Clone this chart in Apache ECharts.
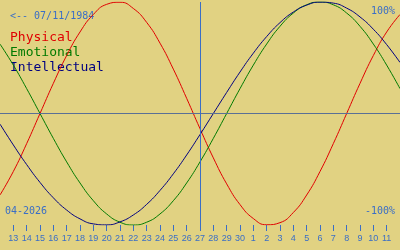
<!DOCTYPE html>
<html><head><meta charset="utf-8">
<script src="https://cdn.jsdelivr.net/npm/echarts@6/dist/echarts.min.js"></script>
<style>html,body{margin:0;padding:0;background:#e1d282}#c{width:400px;height:250px}</style>
</head><body><div id="c"></div>
<script>
var days = ["12","13","14","15","16","17","18","19","20","21","22","23","24","25","26","27","28","29","30","1","2","3","4","5","6","7","8","9","10","11","12"];
var physical = [-73.1,-52.0,-27.0,0,27.0,52.0,73.1,88.8,97.9,99.8,94.2,81.7,63.1,39.8,13.6,-13.6,-39.8,-63.1,-81.7,-94.2,-99.8,-97.9,-88.8,-73.1,-52.0,-27.0,0,27.0,52.0,73.1,88.8];
var emotional = [62.3,43.4,22.3,0,-22.3,-43.4,-62.3,-78.2,-90.1,-97.5,-100,-97.5,-90.1,-78.2,-62.3,-43.4,-22.3,0,22.3,43.4,62.3,78.2,90.1,97.5,100,97.5,90.1,78.2,62.3,43.4,22.3];
var intellectual = [-9.5,-28.2,-45.8,-61.8,-75.6,-86.6,-94.5,-99.0,-99.9,-97.2,-91.0,-81.5,-69.0,-54.1,-37.2,-18.9,0,18.9,37.2,54.1,69.0,81.5,91.0,97.2,99.9,99.0,94.5,86.6,75.6,61.8,45.8];
var todayIndex = 15;
var birthText = "<-- 07/11/1984";
var monthText = "04-2026";
var topText = "100%";
var bottomText = "-100%";
var seriesNames = ["Physical","Emotional","Intellectual"];
var seriesColors = ["#e00000","#007a00","#000080"];
var blue = "#3a6ec6";
var mono = "'DejaVu Sans Mono', monospace";
var sans = "'Liberation Sans', sans-serif";

var chart = echarts.init(document.getElementById('c'), null, {renderer:'canvas'});
function edgeHide(i){ return i > 0 && i < days.length - 1; }
chart.setOption({
  backgroundColor: '#e1d282',
  animation: false,
  grid: {left: 0, right: 0, top: 2, bottom: 25},
  xAxis: {
    type: 'category', data: days, boundaryGap: false,
    axisLine: {show: false, onZero: false},
    axisTick: {show: true, length: 6, interval: edgeHide, lineStyle: {color: blue, width: 1}},
    axisLabel: {interval: edgeHide, color: blue, fontFamily: sans, fontSize: 9, margin: 9},
    splitLine: {show: false}
  },
  yAxis: {type: 'value', min: -100, max: 100, show: false},
  graphic: [
    {type:'text', left: 10, top: 11, style:{text: birthText, fill: blue, font: '10px ' + mono}},
    {type:'text', left: 10, top: 31, style:{text: seriesNames[0], fill: seriesColors[0], font: '13px ' + mono}},
    {type:'text', left: 10, top: 46, style:{text: seriesNames[1], fill: seriesColors[1], font: '13px ' + mono}},
    {type:'text', left: 10, top: 61, style:{text: seriesNames[2], fill: seriesColors[2], font: '13px ' + mono}},
    {type:'text', right: 5, top: 6, style:{text: topText, fill: blue, font: '10px ' + mono}},
    {type:'text', right: 5, top: 206, style:{text: bottomText, fill: blue, font: '10px ' + mono}},
    {type:'text', left: 5, top: 206, style:{text: monthText, fill: blue, font: '10px ' + mono}}
  ],
  series: [
    {name: seriesNames[0], type:'line', data: physical, smooth: true, symbol:'none', lineStyle:{color: seriesColors[0], width: 1}, z: 3,
     markLine: {silent: true, symbol: 'none', label:{show:false}, animation:false,
       data: [{yAxis: 0, lineStyle:{color:'#5a7096', width:1, type:'solid'}}, {xAxis: todayIndex, lineStyle:{color:'#3a6ec6', width:1, type:'solid'}}]}},
    {name: seriesNames[1], type:'line', data: emotional, smooth: true, symbol:'none', lineStyle:{color: seriesColors[1], width: 1}, z: 3},
    {name: seriesNames[2], type:'line', data: intellectual, smooth: true, symbol:'none', lineStyle:{color: seriesColors[2], width: 1}, z: 3}
  ]
});
</script></body></html>
